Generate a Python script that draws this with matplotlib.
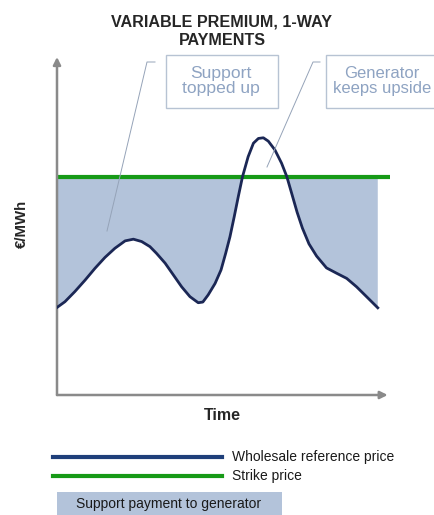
import matplotlib
matplotlib.use('Agg')
import matplotlib.pyplot as plt
from matplotlib.patches import Rectangle
from matplotlib.lines import Line2D

plt.rcParams['font.family'] = ['Liberation Sans', 'DejaVu Sans']

# wholesale reference price (time, €/MWh in arbitrary units)
time = [0.00, 0.24, 0.54, 0.85, 1.15, 1.45, 1.75, 2.06, 2.31, 2.56, 2.81, 3.01,
        3.27, 3.52, 3.77, 4.02, 4.27, 4.41, 4.57, 4.78, 4.96, 5.10, 5.23, 5.36,
        5.48, 5.61, 5.78, 5.94, 6.09, 6.24, 6.39, 6.59, 6.79, 6.95, 7.11, 7.26,
        7.42, 7.62, 7.85, 8.15, 8.46, 8.76, 9.06, 9.36, 9.70]
price = [2.59, 2.76, 3.06, 3.40, 3.75, 4.07, 4.34, 4.56, 4.61, 4.54, 4.39, 4.19,
         3.90, 3.55, 3.20, 2.91, 2.73, 2.75, 2.96, 3.30, 3.70, 4.19, 4.68, 5.28,
         5.86, 6.46, 7.05, 7.45, 7.59, 7.61, 7.51, 7.25, 6.86, 6.46, 5.92, 5.41,
         4.94, 4.47, 4.11, 3.76, 3.60, 3.45, 3.20, 2.91, 2.58]
strike = 6.45
strike_end = 10.08

title = 'VARIABLE PREMIUM, 1-WAY\nPAYMENTS'
box_texts = ['Support\ntopped up', 'Generator\nkeeps upside']
legend_labels = ['Wholesale reference price', 'Strike price', 'Support payment to generator']

navy = '#1b2755'
green = '#179a17'
fill_col = '#b3c3da'
axis_grey = '#8a8a8a'
note_col = '#8ea3c2'
edge_col = '#b7c3d3'

W, H = 435, 515
fig = plt.figure(figsize=(W / 100, H / 100), dpi=100)

def fx(px):
    return px / W

def fy(py):
    return 1 - py / H

ax = fig.add_axes([fx(57), fy(395), fx(391) - fx(57), fy(57) - fy(395)])
ax.set_xlim(0, 10.1)
ax.set_ylim(0, 10)
for s in ax.spines.values():
    s.set_visible(False)
ax.set_xticks([])
ax.set_yticks([])
ax.patch.set_alpha(0)

# support payment area (below strike)
ax.fill_between(time, price, strike, where=[p < strike for p in price],
                interpolate=True, color=fill_col, lw=0, zorder=1)
ax.plot([0, strike_end], [strike, strike], color=green, lw=3.0, zorder=3,
        solid_capstyle='butt', clip_on=False)
ax.plot(time, price, color=navy, lw=2.0, zorder=4, solid_joinstyle='round')

# axis arrows
arr = dict(arrowstyle='-|>', color=axis_grey, lw=1.8, mutation_scale=11,
           shrinkA=0, shrinkB=0)
ax.annotate('', xy=(10.0, 0), xytext=(0, 0), arrowprops=arr, annotation_clip=False)
ax.annotate('', xy=(0, 10.0), xytext=(0, 0), arrowprops=arr, annotation_clip=False)

fig.text(fx(222), fy(31), title, ha='center', va='center', fontsize=11.6,
         fontweight='bold', color='#262626', linespacing=1.3)
fig.text(fx(22), fy(224), '€/MWh', ha='center', va='center', rotation=90,
         fontsize=10.8, fontweight='bold', color='#262626')
fig.text(fx(222), fy(416), 'Time', ha='center', va='center', fontsize=11.5,
         fontweight='bold', color='#262626')

# callout boxes with leader lines
fig.patches.append(Rectangle((fx(166), fy(108)), fx(278) - fx(166), fy(55) - fy(108),
                             transform=fig.transFigure, fill=False, ec=edge_col, lw=1))
fig.patches.append(Rectangle((fx(326), fy(108)), fx(450) - fx(326), fy(55) - fy(108),
                             transform=fig.transFigure, fill=False, ec=edge_col, lw=1))
fig.text(fx(221), fy(81), box_texts[0], ha='center', va='center', fontsize=12.6,
         color=note_col, linespacing=1.05)
fig.text(fx(382), fy(81), box_texts[1], ha='center', va='center', fontsize=12,
         color=note_col, linespacing=1.05)
lead_col = '#95a3b8'
fig.lines.append(Line2D([fx(155), fx(147), fx(107)], [fy(62), fy(62), fy(231)],
                        transform=fig.transFigure, color=lead_col, lw=0.7))
fig.lines.append(Line2D([fx(320), fx(313), fx(267)], [fy(62), fy(62), fy(167)],
                        transform=fig.transFigure, color=lead_col, lw=0.7))

# legend
fig.lines.append(Line2D([fx(53), fx(222)], [fy(457), fy(457)], transform=fig.transFigure,
                        color='#1f3f7a', lw=3.0))
fig.lines.append(Line2D([fx(53), fx(222)], [fy(476), fy(476)], transform=fig.transFigure,
                        color=green, lw=3.0))
fig.text(fx(232), fy(457), legend_labels[0], ha='left', va='center', fontsize=10,
         color='#1a1a1a')
fig.text(fx(232), fy(476), legend_labels[1], ha='left', va='center', fontsize=10,
         color='#1a1a1a')
fig.patches.append(Rectangle((fx(57), fy(516)), fx(282) - fx(57), fy(492) - fy(516),
                             transform=fig.transFigure, color=fill_col, lw=0))
fig.text(fx(169), fy(504), legend_labels[2], ha='center', va='center', fontsize=10,
         color='#1a1a1a')

fig.savefig('out.png', dpi=100)
